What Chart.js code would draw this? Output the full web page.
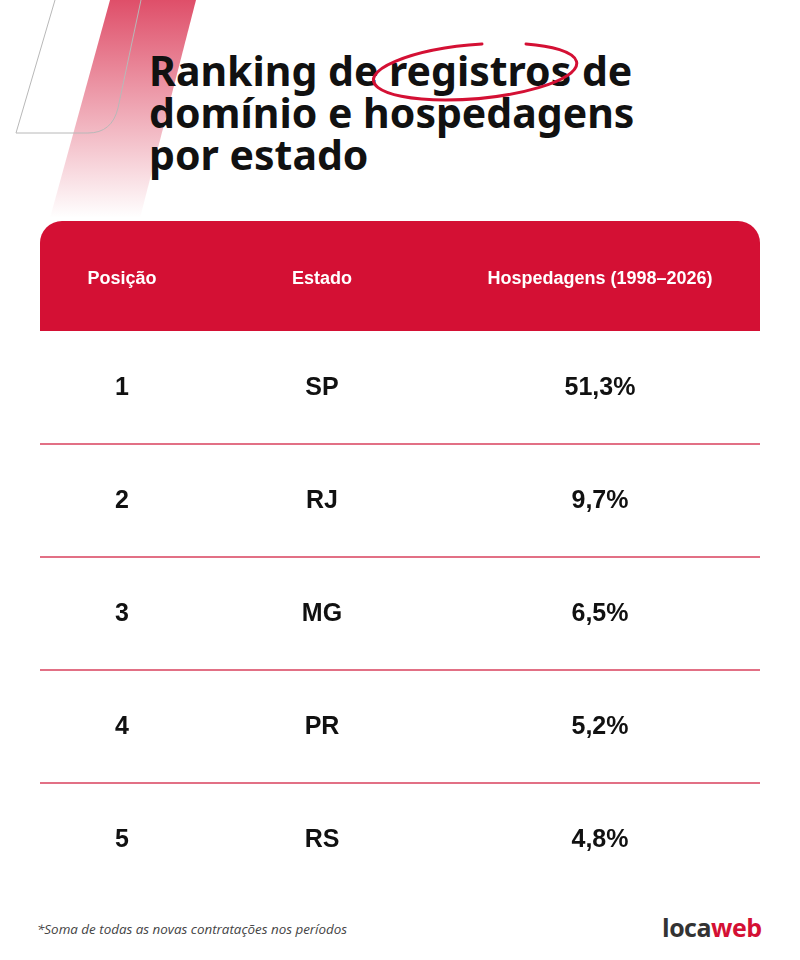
<!DOCTYPE html>
<html lang="pt-BR">
<head>
<meta charset="utf-8">
<title>Ranking de registros de domínio e hospedagens por estado</title>
<script src="https://cdn.jsdelivr.net/npm/chart.js@4.4.1/dist/chart.umd.min.js"></script>
<style>
  html, body { margin: 0; padding: 0; background: #fff; }
  body { width: 800px; height: 960px; position: relative; overflow: hidden; }
  #deco { position: absolute; left: 0; top: 0; }
  h1 {
    position: absolute; left: 149px; top: 49px; margin: 0;
    font-family: "Noto Sans", sans-serif; font-weight: 700;
    font-size: 41px; line-height: 42px; color: #111; letter-spacing: 0;
  }
  #circle { position: absolute; left: 364px; top: 31px; }
  #wrap { position: absolute; left: 40px; top: 221px; width: 720px; height: 675px; }
  .note {
    position: absolute; left: 37px; top: 920px;
    font-family: "Open Sans", sans-serif; font-style: italic;
    font-size: 13.4px; color: #444;
  }
  .logo {
    position: absolute; left: 662px; top: 910px;
    font-family: "Open Sans", sans-serif; font-weight: 700;
    font-size: 25px; letter-spacing: -0.5px; color: #333;
  }
  .logo span { color: #d41034; }
</style>
</head>
<body>
<svg id="deco" width="240" height="230">
  <defs>
    <linearGradient id="fade" x1="0" y1="0" x2="0" y2="1">
      <stop offset="0" stop-color="#d9304f" stop-opacity="0.85"/>
      <stop offset="1" stop-color="#d9304f" stop-opacity="0"/>
    </linearGradient>
  </defs>
  <path d="M110,0 L196,0 L140,218 L50,218 Z" fill="url(#fade)"/>
  <path d="M55,0 L16,133 L88,133 Q112,133 118,108 L141,0" fill="none" stroke="#b8b8b8" stroke-width="1"/>
</svg>

<h1>Ranking de registros de<br>domínio e hospedagens<br>por estado</h1>

<svg id="circle" width="240" height="80">
  <path d="M118,13 A102,27 -5 1 0 162,13" fill="none" stroke="#d41034" stroke-width="3" stroke-linecap="round"/>
</svg>

<div id="wrap"><canvas id="tableChart" width="720" height="675"></canvas></div>

<div class="note">*Soma de todas as novas contratações nos períodos</div>
<div class="logo">loca<span>web</span></div>

<script>
const headers = ['Posição', 'Estado', 'Hospedagens (1998–2026)'];
const positions = ['1', '2', '3', '4', '5'];
const states = ['SP', 'RJ', 'MG', 'PR', 'RS'];
const shares = [51.3, 9.7, 6.5, 5.2, 4.8];

const RED = '#d41034';
const colWidths = [164, 236, 320];

function colCenter(area, i) {
    const total = colWidths.reduce((a, b) => a + b, 0);
    let before = 0;
    for (let k = 0; k < i; k++) before += colWidths[k];
    return area.left + (before + colWidths[i] / 2) / total * (area.right - area.left);
}

function fmtShare(v) {
    return v.toFixed(1).replace('.', ',') + '%';
}

const tablePlugin = {
    id: 'tablePlugin',
    beforeDraw(chart) {
        const { ctx, chartArea } = chart;
        // header band
        ctx.save();
        ctx.fillStyle = RED;
        ctx.beginPath();
        ctx.roundRect(chartArea.left, 0, chartArea.right - chartArea.left, chartArea.top, [22, 22, 0, 0]);
        ctx.fill();
        ctx.fillStyle = '#fff';
        ctx.font = 'bold 18px "Liberation Sans", Arial, sans-serif';
        ctx.textAlign = 'center';
        ctx.textBaseline = 'middle';
        headers.forEach((h, i) => ctx.fillText(h, colCenter(chartArea, i), chartArea.top / 2 + 3));
        ctx.restore();
    },
    afterDraw(chart) {
        const { ctx, chartArea } = chart;
        const y = chart.scales.y;
        ctx.save();
        // separators between rows
        ctx.strokeStyle = '#d9415d';
        ctx.lineWidth = 1.5;
        for (let i = 0; i < positions.length - 1; i++) {
            const yy = (y.getPixelForValue(i) + y.getPixelForValue(i + 1)) / 2;
            ctx.beginPath();
            ctx.moveTo(chartArea.left, yy);
            ctx.lineTo(chartArea.right, yy);
            ctx.stroke();
        }
        // cells
        ctx.fillStyle = '#111';
        ctx.font = 'bold 25px "Liberation Sans", Arial, sans-serif';
        ctx.textAlign = 'center';
        ctx.textBaseline = 'middle';
        const data = chart.data.datasets[0].data;
        positions.forEach((p, i) => {
            const yy = y.getPixelForValue(i) + 1;
            ctx.fillText(p, colCenter(chartArea, 0), yy);
            ctx.fillText(states[i], colCenter(chartArea, 1), yy);
            ctx.fillText(fmtShare(data[i]), colCenter(chartArea, 2), yy);
        });
        ctx.restore();
    }
};

new Chart(document.getElementById('tableChart'), {
    type: 'bar',
    data: {
        labels: positions,
        datasets: [{
            label: 'Hospedagens (1998–2026)',
            data: shares,
            backgroundColor: 'rgba(0,0,0,0)',
            borderWidth: 0
        }]
    },
    options: {
        indexAxis: 'y',
        responsive: false,
        animation: false,
        layout: { padding: { top: 110 } },
        scales: {
            x: { display: false, min: 0, max: 100 },
            y: { display: false, offset: true }
        },
        plugins: {
            legend: { display: false },
            tooltip: { enabled: false }
        }
    },
    plugins: [tablePlugin]
});
</script>
</body>
</html>
